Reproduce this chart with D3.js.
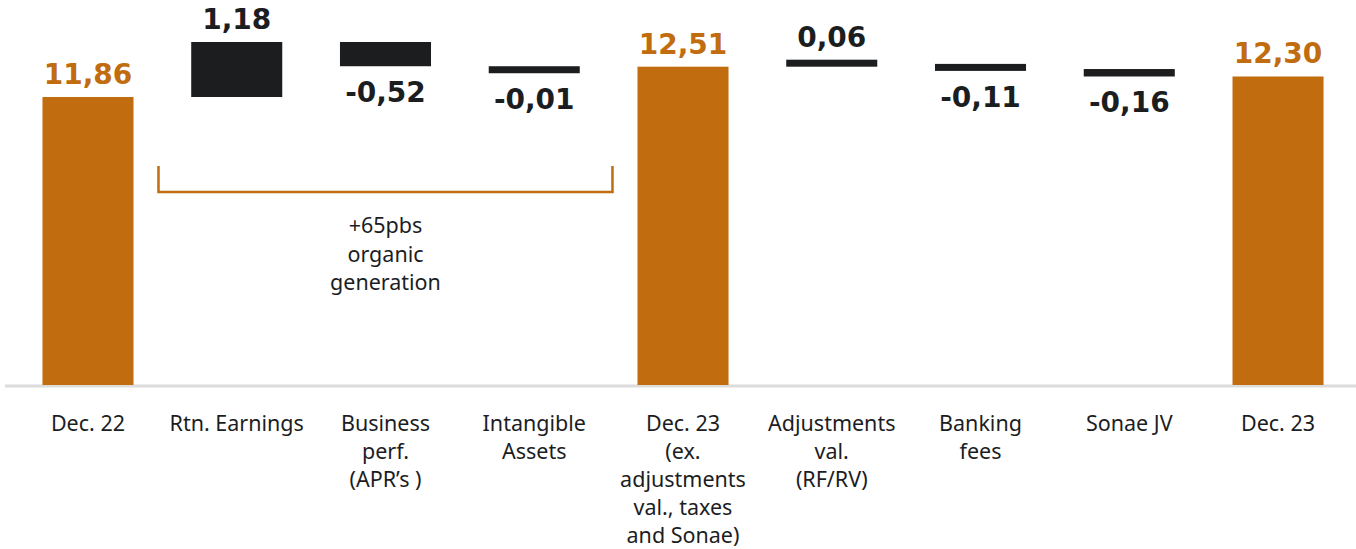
<!DOCTYPE html>
<html>
<head>
<meta charset="utf-8">
<script src="https://cdn.jsdelivr.net/npm/d3@7"></script>
<style>
  html, body { margin: 0; padding: 0; background: #fff; }
  svg { display: block; }
</style>
</head>
<body>
<script>
// waterfall data
var labels = [
  ["Dec. 22"],
  ["Rtn. Earnings"],
  ["Business", "perf.", "(APR\u2019s )"],
  ["Intangible", "Assets"],
  ["Dec. 23", "(ex.", "adjustments", "val., taxes", "and Sonae)"],
  ["Adjustments", "val.", "(RF/RV)"],
  ["Banking", "fees"],
  ["Sonae JV"],
  ["Dec. 23"]
];
var values = [11.86, 1.18, -0.52, -0.01, 12.51, 0.06, -0.11, -0.16, 12.30];
var isTotal = [true, false, false, false, true, false, false, false, true];
var bracketText = ["+65pbs", "organic", "generation"];

var width = 1356, height = 549;
var orange = "#c06c0f", dark = "#1c1d1f";

// build start / end for each step
var bars = [];
var run = 0;
values.forEach(function(v, i) {
  var s, e;
  if (isTotal[i]) { s = null; e = v; run = v; }
  else { s = run; e = run + v; run = e; }
  bars.push({i: i, v: v, start: s, end: e, total: isTotal[i]});
});

var svg = d3.select("body").append("svg")
  .attr("width", width)
  .attr("height", height);

var x = d3.scaleBand()
  .domain(d3.range(values.length))
  .range([13.6, 1352.4])
  .paddingInner(0.388)
  .paddingOuter(0.194);

var y = d3.scaleLinear()
  .domain([5.68, 13.04])
  .range([385, 42]);

var fmt = function(v) { return d3.format(".2f")(Math.abs(v)).replace(".", ","); };
var minH = 7;

// base line
svg.append("line")
  .attr("x1", 5).attr("x2", width)
  .attr("y1", 386).attr("y2", 386)
  .attr("stroke", "#dcdcdc")
  .attr("stroke-width", 3);

var g = svg.selectAll("g.bar").data(bars).enter().append("g").attr("class", "bar");

g.each(function(d) {
  var sel = d3.select(this);
  var top, bot;
  if (d.total) {
    top = y(d.end); bot = y.range()[0];
  } else {
    top = Math.min(y(d.start), y(d.end));
    bot = Math.max(y(d.start), y(d.end));
    if (bot - top < minH) {
      if (d.v < 0) bot = top + minH; else top = bot - minH;
    }
  }
  sel.append("rect")
    .attr("x", x(d.i))
    .attr("y", top)
    .attr("width", x.bandwidth())
    .attr("height", bot - top)
    .attr("fill", d.total ? orange : dark);

  sel.append("text")
    .attr("x", x(d.i) + x.bandwidth() / 2)
    .attr("y", d.v < 0 ? bot + 36 : top - 13)
    .attr("text-anchor", "middle")
    .attr("font-family", "DejaVu Sans, sans-serif")
    .attr("font-weight", "bold")
    .attr("font-size", 28)
    .attr("fill", d.total ? orange : dark)
    .text((d.v < 0 ? "-" : "") + fmt(d.v));
});

// category labels
labels.forEach(function(lines, i) {
  var t = svg.append("text")
    .attr("text-anchor", "middle")
    .attr("font-family", "Noto Sans, sans-serif")
    .attr("font-size", 21.5)
    .attr("fill", dark);
  lines.forEach(function(l, k) {
    t.append("tspan")
      .attr("x", x(i) + x.bandwidth() / 2)
      .attr("y", 431 + k * 28)
      .text(l);
  });
});

// bracket over organic generation
var bx1 = x(0) + x.bandwidth() + 25;
var bx2 = x(4) - 25;
svg.append("path")
  .attr("d", "M" + bx1 + ",166V192H" + bx2 + "V166")
  .attr("fill", "none")
  .attr("stroke", orange)
  .attr("stroke-width", 2.5);

var bt = svg.append("text")
  .attr("text-anchor", "middle")
  .attr("font-family", "Noto Sans, sans-serif")
  .attr("font-size", 21.5)
  .attr("fill", dark);
bracketText.forEach(function(l, k) {
  bt.append("tspan")
    .attr("x", (bx1 + bx2) / 2)
    .attr("y", 233 + k * 28.5)
    .text(l);
});
</script>
</body>
</html>
